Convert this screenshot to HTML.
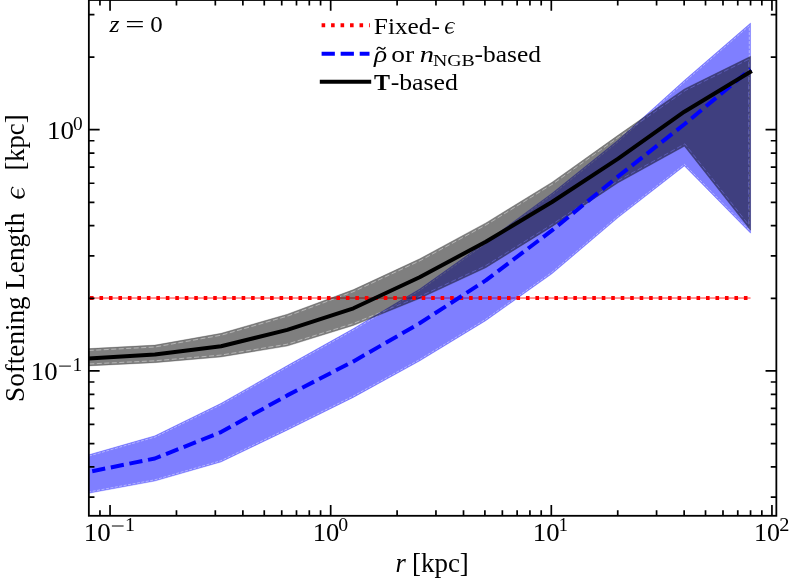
<!DOCTYPE html><html><head><meta charset="utf-8"><style>html,body{margin:0;padding:0;background:#fff;}svg{display:block;will-change:transform;}text{font-family:"Liberation Serif",serif;fill:#000;}</style></head><body>
<svg width="789" height="579" viewBox="0 0 789 579">
<rect width="789" height="579" fill="#fff"/>
<defs><clipPath id="c"><rect x="88.85" y="0.00" width="687.50" height="515.80"/></clipPath></defs>
<g clip-path="url(#c)">
<rect x="88.67" y="297.15" width="661.89" height="1.8" fill="#f00" fill-opacity="0.45"/>
<defs><mask id="mb" maskUnits="userSpaceOnUse" x="0" y="0" width="789" height="579"><rect width="789" height="579" fill="#fff"/><path d="M89.01 456.00 L155.31 436.97 L221.63 404.41 L287.85 366.69 L354.05 329.68 L420.30 290.05 L486.54 243.01 L552.75 194.19 L618.99 140.95 L685.20 81.24 L749.31 25.74 L749.31 230.15 L684.48 164.33 L617.39 216.63 L551.22 272.81 L485.12 319.65 L418.99 359.92 L352.85 396.29 L286.69 429.08 L220.60 460.83 L154.57 479.88 L88.44 492.07" fill="none" stroke="#000" stroke-opacity="0.7" stroke-width="0.6" stroke-dasharray="3 1.5"/></mask>
<mask id="mg" maskUnits="userSpaceOnUse" x="0" y="0" width="789" height="579"><rect width="789" height="579" fill="#fff"/><path d="M88.77 350.50 L155.08 346.99 L221.48 335.15 L287.83 316.01 L354.16 291.35 L420.47 260.50 L486.75 224.55 L553.04 183.79 L619.28 136.65 L685.34 90.54 L748.66 59.35 L748.66 224.82 L684.86 143.86 L617.20 181.17 L550.97 225.10 L484.90 266.13 L418.85 296.86 L352.78 323.71 L286.80 344.25 L220.81 355.11 L154.73 360.80 L88.58 364.00" fill="none" stroke="#000" stroke-opacity="0.7" stroke-width="0.6" stroke-dasharray="5 2.5"/></mask></defs>
<polygon mask="url(#mb)" points="88.67,454.80 154.86,435.80 221.05,403.30 287.24,365.60 353.42,328.60 419.61,289.00 485.80,242.00 551.99,193.20 618.18,140.00 684.37,80.30 750.56,23.00 750.56,233.20 684.37,166.00 618.18,217.60 551.99,273.80 485.80,320.70 419.61,361.00 353.42,397.40 287.24,430.20 221.05,462.00 154.86,481.10 88.67,493.30" fill="#00f" fill-opacity="0.5" stroke="#00f" stroke-opacity="0.25" stroke-width="0.8"/>
<polygon mask="url(#mg)" points="88.67,348.60 154.86,345.10 221.05,333.30 287.24,314.20 353.42,289.60 419.61,258.80 485.80,222.90 551.99,182.20 618.18,135.10 684.37,88.90 750.56,56.30 750.56,230.30 684.37,146.30 618.18,182.80 551.99,226.70 485.80,267.80 419.61,298.60 353.42,325.50 287.24,346.10 221.05,357.00 154.86,362.70 88.67,365.90" fill="#000" fill-opacity="0.5" stroke="#000" stroke-opacity="0.25" stroke-width="0.8"/>
<line x1="80.52" y1="298.05" x2="750.60" y2="298.05" stroke="#f00" stroke-width="4.00" stroke-dasharray="3.600 5.877"/>
<polyline points="88.67,471.90 154.86,458.50 221.05,432.10 287.24,395.40 353.42,361.40 419.61,323.30 485.80,280.40 551.99,230.40 618.18,176.40 684.37,124.30 750.56,69.20" fill="none" stroke="#00f" stroke-width="4.00" stroke-dasharray="13.25 5.73" stroke-dashoffset="-3.6" stroke-linejoin="round"/>
<polyline points="88.67,358.60 154.86,354.50 221.05,346.30 287.24,329.90 353.42,308.30 419.61,277.20 485.80,241.80 551.99,202.00 618.18,158.60 684.37,111.70 750.56,71.80 751.84,71.03" fill="none" stroke="#000" stroke-width="4.00" stroke-linejoin="round"/>
</g>
<path d="M88.85 497.08h5.60M776.35 497.08h-5.60M88.85 466.95h5.60M776.35 466.95h-5.60M88.85 443.57h5.60M776.35 443.57h-5.60M88.85 424.47h5.60M776.35 424.47h-5.60M88.85 408.32h5.60M776.35 408.32h-5.60M88.85 394.33h5.60M776.35 394.33h-5.60M99.95 515.80v-5.60M99.95 0.00v5.60M88.85 381.99h5.60M776.35 381.99h-5.60M110.05 515.80v-10.80M110.05 0.00v10.80M88.85 370.95h10.80M776.35 370.95h-10.80M176.47 515.80v-5.60M176.47 0.00v5.60M88.85 298.33h5.60M776.35 298.33h-5.60M215.32 515.80v-5.60M215.32 0.00v5.60M88.85 255.85h5.60M776.35 255.85h-5.60M242.88 515.80v-5.60M242.88 0.00v5.60M88.85 225.72h5.60M776.35 225.72h-5.60M264.26 515.80v-5.60M264.26 0.00v5.60M88.85 202.34h5.60M776.35 202.34h-5.60M281.73 515.80v-5.60M281.73 0.00v5.60M88.85 183.24h5.60M776.35 183.24h-5.60M296.50 515.80v-5.60M296.50 0.00v5.60M88.85 167.09h5.60M776.35 167.09h-5.60M309.30 515.80v-5.60M309.30 0.00v5.60M88.85 153.10h5.60M776.35 153.10h-5.60M320.58 515.80v-5.60M320.58 0.00v5.60M88.85 140.76h5.60M776.35 140.76h-5.60M330.68 515.80v-10.80M330.68 0.00v10.80M88.85 129.72h10.80M776.35 129.72h-10.80M397.10 515.80v-5.60M397.10 0.00v5.60M88.85 57.10h5.60M776.35 57.10h-5.60M435.95 515.80v-5.60M435.95 0.00v5.60M88.85 14.62h5.60M776.35 14.62h-5.60M463.51 515.80v-5.60M463.51 0.00v5.60M484.89 515.80v-5.60M484.89 0.00v5.60M502.36 515.80v-5.60M502.36 0.00v5.60M517.13 515.80v-5.60M517.13 0.00v5.60M529.93 515.80v-5.60M529.93 0.00v5.60M541.21 515.80v-5.60M541.21 0.00v5.60M551.31 515.80v-10.80M551.31 0.00v10.80M617.73 515.80v-5.60M617.73 0.00v5.60M656.58 515.80v-5.60M656.58 0.00v5.60M684.14 515.80v-5.60M684.14 0.00v5.60M705.52 515.80v-5.60M705.52 0.00v5.60M722.99 515.80v-5.60M722.99 0.00v5.60M737.76 515.80v-5.60M737.76 0.00v5.60M750.56 515.80v-5.60M750.56 0.00v5.60M761.84 515.80v-5.60M761.84 0.00v5.60M771.94 515.80v-10.80M771.94 0.00v10.80" stroke="#000" stroke-width="1.70" fill="none"/>
<rect x="88.85" y="0.00" width="687.50" height="515.80" fill="none" stroke="#000" stroke-width="1.8"/>
<text transform="translate(83.73,540.50) scale(1.0304,1)" font-size="26.2" style="">10</text>
<text transform="translate(124.88,531.00) scale(1.0758,1)" font-size="18.6" style="">1</text>
<text transform="translate(312.67,540.50) scale(1.0130,1)" font-size="26.2" style="">10</text>
<text transform="translate(338.36,531.40) scale(1.0625,1)" font-size="18.6" style="">0</text>
<text transform="translate(532.85,540.50) scale(1.0217,1)" font-size="26.2" style="">10</text>
<text transform="translate(558.82,531.00) scale(0.9848,1)" font-size="18.6" style="">1</text>
<text transform="translate(753.92,540.50) scale(0.9913,1)" font-size="26.2" style="">10</text>
<text transform="translate(779.32,531.00) scale(1.0946,1)" font-size="18.6" style="">2</text>
<text transform="translate(47.03,138.80) scale(1.0304,1)" font-size="26.2" style="">10</text>
<text transform="translate(72.98,129.80) scale(1.0375,1)" font-size="18.6" style="">0</text>
<text transform="translate(30.85,380.00) scale(1.0217,1)" font-size="26.2" style="">10</text>
<text transform="translate(72.43,370.70) scale(1.0455,1)" font-size="18.6" style="">1</text>
<text transform="translate(395.60,571.70) scale(1.0000,1)" font-size="26.5" style="font-style:italic;">r</text>
<text transform="translate(411.97,571.70) scale(1.0173,1)" font-size="26.5" style="">[kpc]</text>
<text transform="translate(24.00,401.94) rotate(-90) scale(1.0248,1)" font-size="26.5" style="">Softening</text>
<text transform="translate(24.00,289.72) rotate(-90) scale(1.0257,1)" font-size="26.5" style="">Length</text>
<text transform="translate(24.00,170.61) rotate(-90) scale(1.0038,1)" font-size="26.5" style="">[kpc]</text>
<text transform="translate(109.52,32.00) scale(1.1000,1)" font-size="23.5" style="font-style:italic;">z</text>
<text transform="translate(125.15,32.00) scale(1.4545,1)" font-size="23.5" style="">=</text>
<text transform="translate(150.25,32.10) scale(1.0600,1)" font-size="23.5" style="">0</text>
<text transform="translate(373.77,33.60) scale(1.0572,1)" font-size="24.0" style="">Fixed-</text>
<text transform="translate(374.08,62.00) scale(1.1404,1)" font-size="24.0" style="font-style:italic;">ρ</text>
<text transform="translate(391.25,62.00) scale(1.1489,1)" font-size="24.0" style="">or</text>
<text transform="translate(419.65,62.00) scale(1.1863,1)" font-size="24.0" style="font-style:italic;">n</text>
<text transform="translate(432.90,65.80) scale(1.2393,1)" font-size="16.0" style="">NGB</text>
<text transform="translate(474.55,62.00) scale(1.0601,1)" font-size="24.0" style="">-based</text>
<text transform="translate(374.00,90.10) scale(1.0000,1)" font-size="24.0" style="font-weight:bold;">T</text>
<text transform="translate(390.64,90.10) scale(1.0747,1)" font-size="24.0" style="">-based</text>
<path d="M218,38C205,15 170,3 130,4C60,6 5,80 3,150C1,215 40,250 90,250C140,250 180,225 198,198L190,190C170,212 135,230 100,230C60,230 42,195 45,140L170,140L170,122L48,122C58,60 100,20 145,20C175,20 195,35 203,58Z" transform="translate(444.90,21.85) scale(0.04636,0.04720)"/>
<path d="M218,38C205,15 170,3 130,4C60,6 5,80 3,150C1,215 40,250 90,250C140,250 180,225 198,198L190,190C170,212 135,230 100,230C60,230 42,195 45,140L170,140L170,122L48,122C58,60 100,20 145,20C175,20 195,35 203,58Z" transform="translate(10.60,198.80) rotate(-90) scale(0.05591,0.05680)"/>
<path d="M111.9 526.0H123.6M59.1 366.1H70.9" stroke="#000" stroke-width="1.0" fill="none"/>
<path d="M376.9,49.7 C377.6,47.2 379.3,46.6 381.0,48.2 C382.6,49.7 384.3,49.6 385.3,46.9" fill="none" stroke="#000" stroke-width="1.3"/>
<line x1="321.6" y1="25.3" x2="369.8" y2="25.3" stroke="#f00" stroke-width="4.00" stroke-dasharray="3.600 5.877"/>
<line x1="321.6" y1="53.85" x2="369.5" y2="53.85" stroke="#00f" stroke-width="4.00" stroke-dasharray="13.25 5.8"/>
<line x1="319.8" y1="81.8" x2="371.2" y2="81.8" stroke="#000" stroke-width="4.00"/>
</svg></body></html>
